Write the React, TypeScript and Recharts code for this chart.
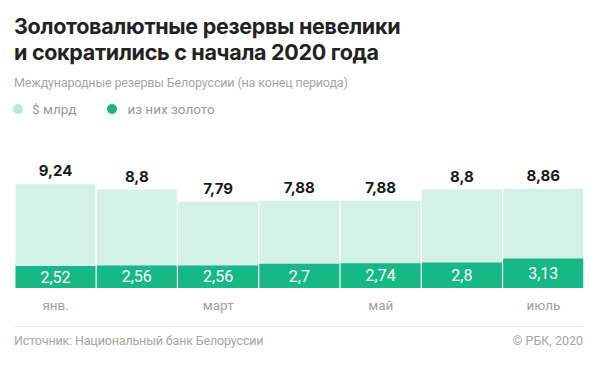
import React from 'react';
import { BarChart, Bar, XAxis, YAxis, LabelList } from 'recharts';

const months = ['янв.', 'фев.', 'март', 'апр.', 'май', 'июнь', 'июль'];
const totalReserves = [9.24, 8.8, 7.79, 7.88, 7.88, 8.8, 8.86];
const goldReserves = [2.52, 2.56, 2.56, 2.7, 2.74, 2.8, 3.13];

const LIGHT = '#d3f1e6';
const DARK = '#16b985';
const FONT = 'Inter, "Noto Sans", sans-serif';
const FONT_LIGHT = 'Roboto, "Noto Sans", sans-serif';

// запятая вместо точки
const fmt = (v: any) => String(v).replace('.', ',');

export default function App() {
  const chartData = months.map((m, i) => ({
    month: m,
    total: totalReserves[i],
    gold: goldReserves[i],
  }));

  return (
    <div
      style={{
        position: 'absolute',
        left: 0,
        top: 0,
        width: 600,
        height: 375,
        background: '#fff',
        fontFamily: FONT,
        overflow: 'hidden',
      }}
    >
      <div
        style={{
          position: 'absolute',
          left: 14,
          top: 13,
          fontSize: 21.5,
          fontWeight: 700,
          lineHeight: '26px',
          color: '#222',
          letterSpacing: '-0.3px',
        }}
      >
        Золотовалютные резервы невелики
        <br />
        и сократились с начала 2020 года
      </div>
      <div
        style={{
          position: 'absolute',
          left: 14,
          top: 75,
          fontSize: 12.5,
          letterSpacing: '-0.15px',
          color: '#a6a6a6',
          fontFamily: FONT_LIGHT,
        }}
      >
        Международные резервы Белоруссии (на конец периода)
      </div>
      <div
        style={{
          position: 'absolute',
          left: 13,
          top: 101,
          fontSize: 13.5,
          color: '#9a9a9a',
          display: 'flex',
          alignItems: 'center',
          fontFamily: FONT_LIGHT,
        }}
      >
        <span style={{ width: 10, height: 10, borderRadius: 5, background: '#b7eada', marginRight: 9 }} />
        <span style={{ marginRight: 31 }}>$ млрд</span>
        <span style={{ width: 10, height: 10, borderRadius: 5, background: DARK, marginRight: 10 }} />
        <span>из них золото</span>
      </div>

      <div style={{ position: 'absolute', left: 0, top: 130 }}>
        <BarChart
          width={600}
          height={190}
          data={chartData}
          margin={{ top: 45, right: 16, left: 15, bottom: 2 }}
          barCategoryGap={0.5}
        >
          <XAxis
            xAxisId="total"
            dataKey="month"
            axisLine={false}
            tickLine={false}
            interval={1}
            height={30}
            tick={{ fill: '#a0a0a0', fontSize: 13.5, fontFamily: FONT_LIGHT }}
            tickMargin={6}
          />
          <XAxis xAxisId="gold" dataKey="month" orientation="top" height={0} hide />
          <YAxis hide domain={[0.7, 10]} />
          <Bar xAxisId="total" dataKey="total" fill={LIGHT} isAnimationActive={false}>
            <LabelList
              dataKey="total"
              position="top"
              offset={8}
              formatter={fmt}
              style={{ fill: '#1a1a1a', fontSize: 15, fontWeight: 700, fontFamily: FONT }}
            />
          </Bar>
          <Bar xAxisId="gold" dataKey="gold" fill={DARK} isAnimationActive={false}>
            <LabelList
              dataKey="gold"
              position="center"
              formatter={fmt}
              style={{ fill: '#fff', fontSize: 16, fontFamily: FONT_LIGHT }}
            />
          </Bar>
        </BarChart>
      </div>

      <div
        style={{
          position: 'absolute',
          left: 15,
          top: 326,
          width: 568,
          height: 1,
          background: '#e6e6e6',
        }}
      />
      <div
        style={{
          position: 'absolute',
          left: 14,
          top: 333,
          fontSize: 12.5,
          letterSpacing: '-0.15px',
          color: '#a6a6a6',
          fontFamily: FONT_LIGHT,
        }}
      >
        Источник: Национальный банк Белоруссии
      </div>
      <div
        style={{
          position: 'absolute',
          right: 17,
          top: 333,
          fontSize: 12.5,
          color: '#a6a6a6',
          fontFamily: FONT_LIGHT,
        }}
      >
        © РБК, 2020
      </div>
    </div>
  );
}
